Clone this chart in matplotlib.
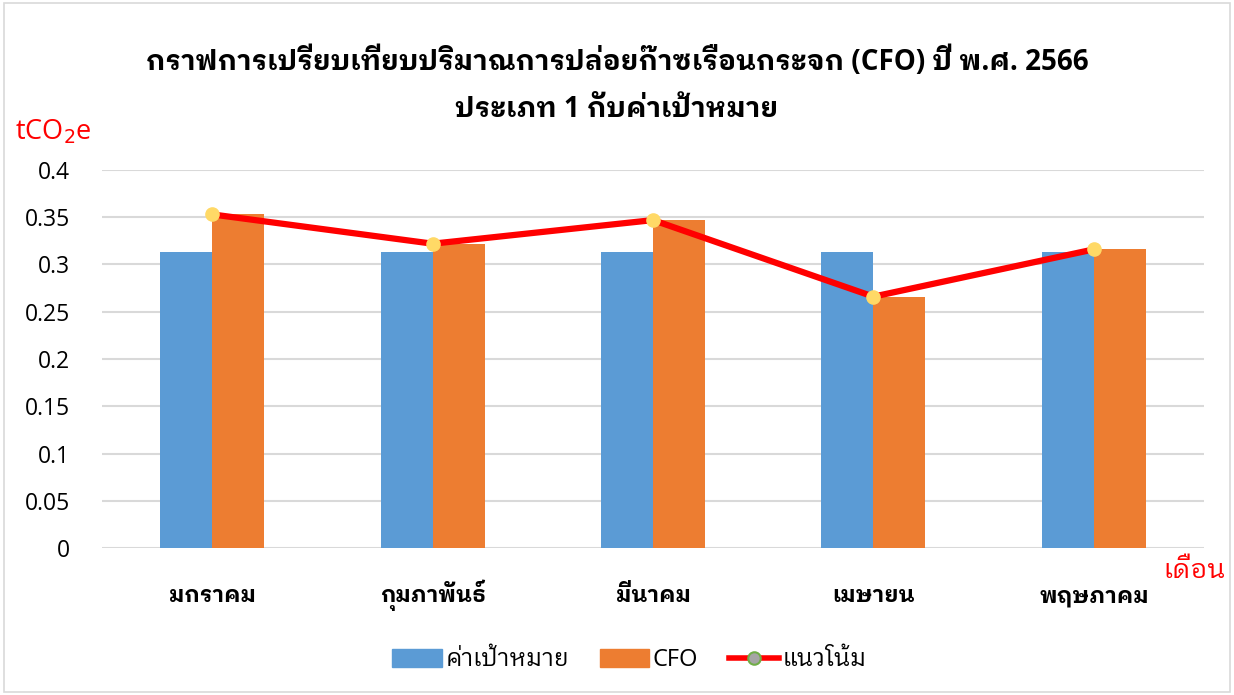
import numpy as np
import matplotlib.pyplot as plt
from matplotlib.lines import Line2D
from matplotlib.patches import Patch, Rectangle

# Data
months = ['มกราคม', 'กุมภาพันธ์', 'มีนาคม', 'เมษายน', 'พฤษภาคม']
target = [0.313, 0.313, 0.313, 0.313, 0.313]
cfo = [0.353, 0.322, 0.347, 0.266, 0.316]
yticks = [0, 0.05, 0.1, 0.15, 0.2, 0.25, 0.3, 0.35, 0.4]

title = 'กราฟการเปรียบเทียบปริมาณการปล่อยก๊าซเรือนกระจก (CFO) ปี พ.ศ. 2566\nประเภท 1 กับค่าเป้าหมาย'

# Latin from Open Sans, Thai glyphs fall through to IBM Plex Sans Thai Looped
plt.rcParams['font.family'] = ['Open Sans', 'IBM Plex Sans Thai Looped', 'DejaVu Sans']

fig = plt.figure(figsize=(12.34, 6.95), dpi=100)
ax = fig.add_axes([0.0827, 0.2115, 0.893, 0.5439])

x = np.arange(len(months))
w = 0.236
ax.bar(x - w / 2, target, w, color='#5B9BD5', zorder=2)
ax.bar(x + w / 2, cfo, w, color='#ED7D31', zorder=2)
ax.plot(x, cfo, color='#FF0000', lw=4.5, marker='o', markersize=9.5,
        markerfacecolor='#FFD966', markeredgecolor='#FFD966', zorder=3)

ax.set_xlim(-0.5, len(months) - 0.5)
ax.set_ylim(0, 0.4)
ax.set_yticks(yticks)
ax.set_yticklabels([f'{v:g}' for v in yticks], fontsize=16.5)
ax.set_xticks(x)
ax.set_xticklabels(months, fontsize=16, fontweight='bold')
# align month names on their baseline so upper vowels don't push them down
for lbl in ax.get_xticklabels():
    lbl.set_verticalalignment('baseline')
ax.tick_params(axis='x', length=0, pad=39)
ax.tick_params(axis='y', length=0, pad=23)
ax.grid(axis='y', color='#D9D9D9', lw=1.5, zorder=0)
for s in ax.spines.values():
    s.set_visible(False)

fig.text(0.5, 0.877, title, ha='center', va='center', fontsize=20,
         fontweight='bold', linespacing=1.8)
fig.text(0.012, 0.81, 'tCO$_2$e', color='#FF0000', fontsize=19.5, ha='left', va='center')
fig.text(0.993, 0.177, 'เดือน', color='#FF0000', fontsize=19, ha='right', va='center')

handles = [Patch(color='#5B9BD5'), Patch(color='#ED7D31'),
           Line2D([0], [0], color='#FF0000', lw=4, marker='o', markersize=9,
                  markerfacecolor='#A5A5A5', markeredgecolor='#70AD47', markeredgewidth=1.5)]
fig.legend(handles, ['ค่าเป้าหมาย', 'CFO', 'แนวโน้ม'], loc='center',
           bbox_to_anchor=(0.51, 0.05), ncol=3, frameon=False, fontsize=17,
           handlelength=2.1, handleheight=0.78, handletextpad=0.15, columnspacing=1.3)

fig.patches.append(Rectangle((0.003, 0.004), 0.994, 0.992, transform=fig.transFigure,
                             fill=False, edgecolor='#D9D9D9', lw=1.2))

fig.savefig('out.png', dpi=100)
